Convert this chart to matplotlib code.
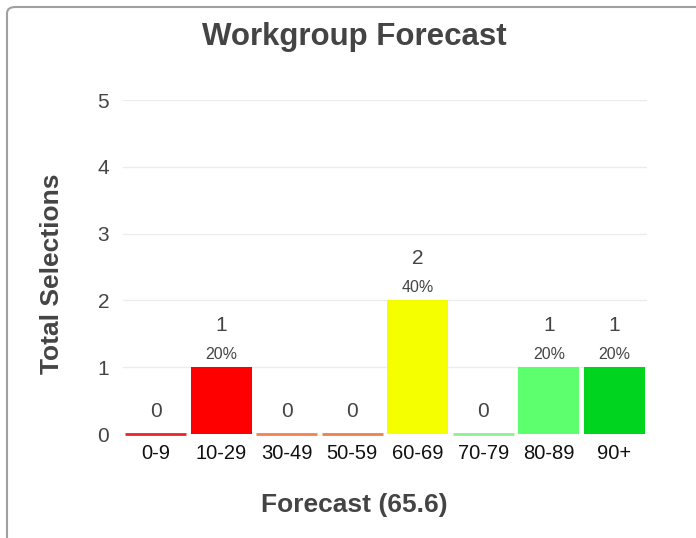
"""
Workgroup Forecast bar chart - recreated with matplotlib.
Saves out.png (696x538).
"""

import matplotlib.pyplot as plt
from matplotlib.patches import FancyBboxPatch

# ---------------------------
# Data
# ---------------------------
CATEGORIES = ["0-9", "10-29", "30-49", "50-59", "60-69", "70-79", "80-89", "90+"]
COUNTS = [0, 1, 0, 0, 2, 0, 1, 1]
PERCENTS = ["", "20%", "", "", "40%", "", "20%", "20%"]
COLORS = ["#e8262a", "#ff0000", "#f5824a", "#f0804a",
          "#f5ff00", "#90f090", "#5dff6e", "#00d41e"]
TITLE = "Workgroup Forecast"
X_LABEL = "Forecast (65.6)"
Y_LABEL = "Total Selections"

plt.rcParams["font.family"] = ["Liberation Sans", "DejaVu Sans"]

BAR_W = 0.93


def main():
    fig = plt.figure(figsize=(6.96, 5.38), dpi=100)

    # outer card border (right/bottom edges run off the canvas)
    card = FancyBboxPatch((7 / 696, -0.05), 1.2, 1.05 - 7 / 538,
                          boxstyle="round,pad=0,rounding_size=0.012",
                          transform=fig.transFigure, facecolor="white",
                          edgecolor="#a0a0a0", linewidth=1.5, zorder=-5)
    fig.patches.append(card)

    ax = fig.add_axes([123 / 696, 1 - 434 / 538, (647 - 123) / 696, (434 - 100) / 538])
    ax.set_facecolor("none")
    ax.set_zorder(2)

    x = list(range(len(CATEGORIES)))
    ax.bar(x, COUNTS, width=BAR_W, color=COLORS, zorder=3)
    # zero-count categories still show a thin coloured line on the baseline
    for xi, v, c in zip(x, COUNTS, COLORS):
        if v == 0:
            ax.hlines(v, xi - BAR_W / 2, xi + BAR_W / 2, colors=c,
                      linewidth=2, zorder=4, clip_on=False)

    ax.set_xlim(-0.5, len(CATEGORIES) - 0.5)
    ax.set_ylim(0, 5)
    ax.set_yticks(range(6))
    ax.grid(axis="y", color="#ececec", linewidth=1, zorder=0)
    for s in ax.spines.values():
        s.set_visible(False)
    ax.tick_params(axis="both", length=0)
    ax.tick_params(axis="y", labelsize=15, labelcolor="#444444", pad=10)
    ax.tick_params(axis="x", labelsize=14.5, labelcolor="#111111", pad=7)
    ax.set_xticks(x)
    ax.set_xticklabels(CATEGORIES)

    # value labels
    for xi, v, p in zip(x, COUNTS, PERCENTS):
        if p:
            ax.annotate(p, (xi, v), xytext=(0, 9), textcoords="offset points",
                        ha="center", va="center", fontsize=11.5, color="#444444")
            ax.annotate(str(v), (xi, v), xytext=(0, 30), textcoords="offset points",
                        ha="center", va="center", fontsize=15, color="#444444")
        else:
            ax.annotate(str(v), (xi, v), xytext=(0, 16), textcoords="offset points",
                        ha="center", va="center", fontsize=15, color="#444444")

    fig.text(354 / 696, 1 - 37 / 538, TITLE, ha="center", va="center",
             fontsize=22.5, fontweight="bold", color="#444444")
    fig.text(354 / 696, 1 - 505 / 538, X_LABEL, ha="center", va="center",
             fontsize=19, fontweight="bold", color="#444444")
    fig.text(52 / 696, 1 - 274 / 538, Y_LABEL, ha="center", va="center",
             rotation=90, fontsize=19, fontweight="bold", color="#444444")

    fig.savefig("out.png", dpi=100)
    plt.close(fig)


if __name__ == "__main__":
    main()
